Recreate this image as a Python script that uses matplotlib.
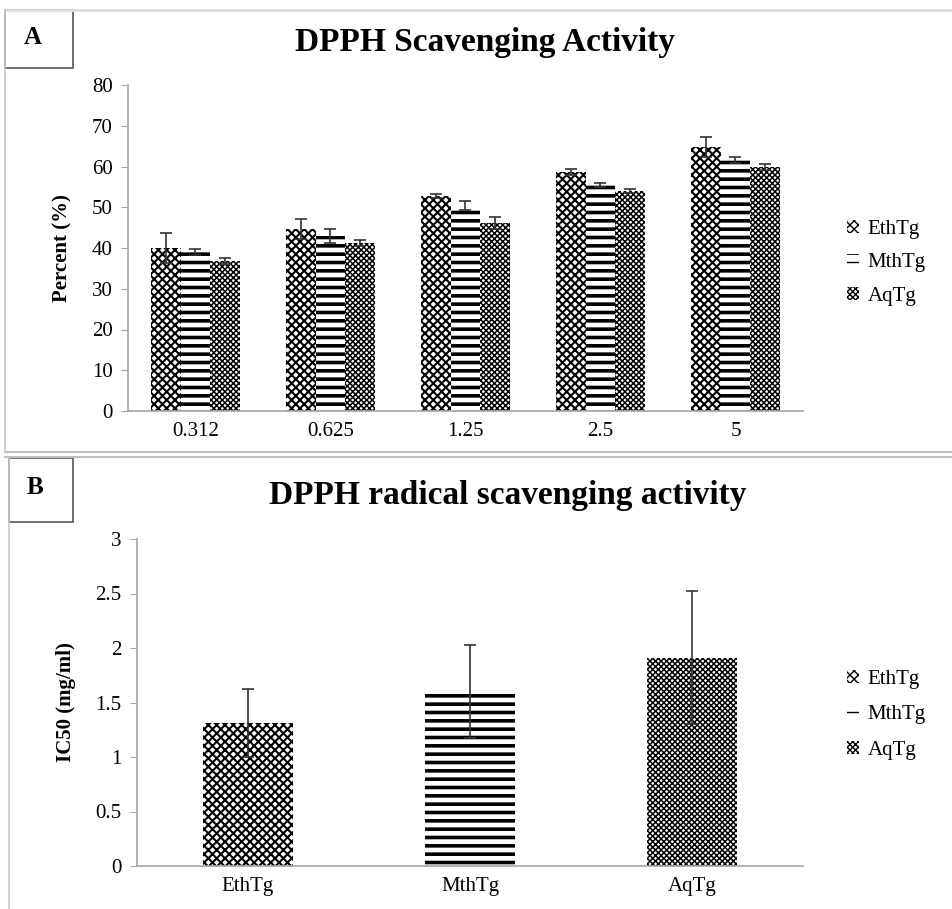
import matplotlib
matplotlib.use("Agg")
import matplotlib.pyplot as plt
import numpy as np
from matplotlib.lines import Line2D
from matplotlib.patches import Rectangle

# ---------------- data ----------------
conc_labels = ["0.312", "0.625", "1.25", "2.5", "5"]
series = ["EthTg", "MthTg", "AqTg"]
eth_pct = [40.0, 44.7, 52.8, 58.7, 64.8]
mth_pct = [39.0, 42.9, 50.4, 55.5, 61.6]
aq_pct = [36.8, 41.2, 46.1, 54.0, 59.9]
eth_err = [3.7, 2.4, 0.5, 0.7, 2.4]
mth_err = [0.7, 1.7, 1.1, 0.5, 0.8]
aq_err = [0.7, 0.8, 1.5, 0.6, 0.8]

ic50_labels = ["EthTg", "MthTg", "AqTg"]
ic50_vals = [1.31, 1.60, 1.91]
ic50_err = [0.31, 0.43, 0.61]

hatches = ["xxxx", "--", "xxxxxx"]
hatch_lw = [1.5, 2.6, 1.1]

plt.rcParams["font.family"] = ["Liberation Serif", "DejaVu Serif"]
W, H = 953, 909
fig = plt.figure(figsize=(W / 100, H / 100), dpi=100)

def fx(px):
    return px / W

def fy(py):
    return 1 - py / H

gray = "#a6a6a6"


def make_bar(ax, x, h, w, hatch, lw):
    with plt.rc_context({"hatch.linewidth": lw, "hatch.color": "black"}):
        bars = ax.bar(x, h, w, color="white", edgecolor="black", linewidth=0, hatch=hatch)
    for b in bars:
        if hasattr(b, "set_hatch_linewidth"):
            b.set_hatch_linewidth(lw)
    return bars


def style_axes(ax):
    for s in ["top", "right"]:
        ax.spines[s].set_visible(False)
    for s in ["left", "bottom"]:
        ax.spines[s].set_color(gray)
        ax.spines[s].set_linewidth(1.2)
    ax.tick_params(axis="y", direction="out", length=5, color=gray, labelsize=15, pad=6)
    ax.tick_params(axis="x", length=0, labelsize=15, pad=8)


# ---------------- panel A ----------------
axA = fig.add_axes([fx(128), fy(411), fx(803) - fx(128), fy(85) - fy(411)])
xa = np.arange(len(conc_labels))
bw = 0.222
vals_a = [eth_pct, mth_pct, aq_pct]
errs_a = [eth_err, mth_err, aq_err]
handlesA = []
for i in range(3):
    pos = xa + (i - 1) * bw
    b = make_bar(axA, pos, vals_a[i], bw, hatches[i], hatch_lw[i])
    handlesA.append(b)
    axA.errorbar(pos, vals_a[i], yerr=errs_a[i], fmt="none", ecolor="#333333",
                 elinewidth=1.2, capsize=4.5, capthick=1.2)
axA.set_xlim(-0.5, len(conc_labels) - 0.5)
axA.set_ylim(0, 80)
axA.set_yticks(np.arange(0, 81, 10))
axA.set_xticks(xa)
axA.set_xticklabels(conc_labels)
axA.set_ylabel("Percent (%)", fontsize=15, fontweight="bold", labelpad=14)
style_axes(axA)
fig.legend(handlesA, series, loc="center left", bbox_to_anchor=(fx(828), fy(263)),
           frameon=False, fontsize=15, handlelength=0.6, handleheight=0.6,
           handletextpad=0.4, labelspacing=0.7)
fig.text(fx(485), fy(43), "DPPH Scavenging Activity", ha="center", va="center",
         fontsize=24, fontweight="bold")

# ---------------- panel B ----------------
axB = fig.add_axes([fx(137), fy(866), fx(803) - fx(137), fy(539) - fy(866)])
xb = np.arange(len(ic50_labels))
bwB = 0.405
handlesB = []
for i in range(3):
    b = make_bar(axB, xb[i], ic50_vals[i], bwB, hatches[i], hatch_lw[i])
    handlesB.append(b)
axB.errorbar(xb, ic50_vals, yerr=ic50_err, fmt="none", ecolor="#333333",
             elinewidth=1.2, capsize=4.5, capthick=1.2)
axB.set_xlim(-0.5, len(ic50_labels) - 0.5)
axB.set_ylim(0, 3)
axB.set_yticks(np.arange(0, 3.01, 0.5))
axB.set_yticklabels(["0", "0.5", "1", "1.5", "2", "2.5", "3"])
axB.set_xticks(xb)
axB.set_xticklabels(ic50_labels)
axB.set_ylabel("IC50 (mg/ml)", fontsize=15, fontweight="bold", labelpad=14)
style_axes(axB)
fig.legend(handlesB, series, loc="center left", bbox_to_anchor=(fx(828), fy(715)),
           frameon=False, fontsize=15, handlelength=0.6, handleheight=0.6,
           handletextpad=0.4, labelspacing=0.8)
fig.text(fx(508), fy(495), "DPPH radical scavenging activity", ha="center", va="center",
         fontsize=24, fontweight="bold")

# ---------------- frames ----------------
def hline(y, x0, x1, c="#c8c8c8", lw=1.2):
    fig.add_artist(Line2D([fx(x0), fx(x1)], [fy(y), fy(y)], color=c, lw=lw))

def vline(x, y0, y1, c="#c8c8c8", lw=1.2):
    fig.add_artist(Line2D([fx(x), fx(x)], [fy(y0), fy(y1)], color=c, lw=lw))

hline(10, 5, 953, c="#dddddd", lw=2)
vline(5, 10, 452)
hline(452, 5, 953, c="#c0c0c0", lw=1.5)
hline(457, 5, 953, c="#c0c0c0", lw=1.5)
vline(9, 457, 909)

for (x0, y0, x1, y1, lab) in [(5, 10, 73, 68, "A"), (9, 458, 73, 522, "B")]:
    fig.add_artist(Rectangle((fx(x0), fy(y1)), fx(x1) - fx(x0), fy(y0) - fy(y1),
                             fill=False, edgecolor="#555555", lw=1.2, transform=fig.transFigure))
    fig.text(fx((x0 + x1) / 2 - 6), fy((y0 + y1) / 2 - 2), lab, ha="center", va="center",
             fontsize=18, fontweight="bold")

fig.savefig("out.png", dpi=100)
